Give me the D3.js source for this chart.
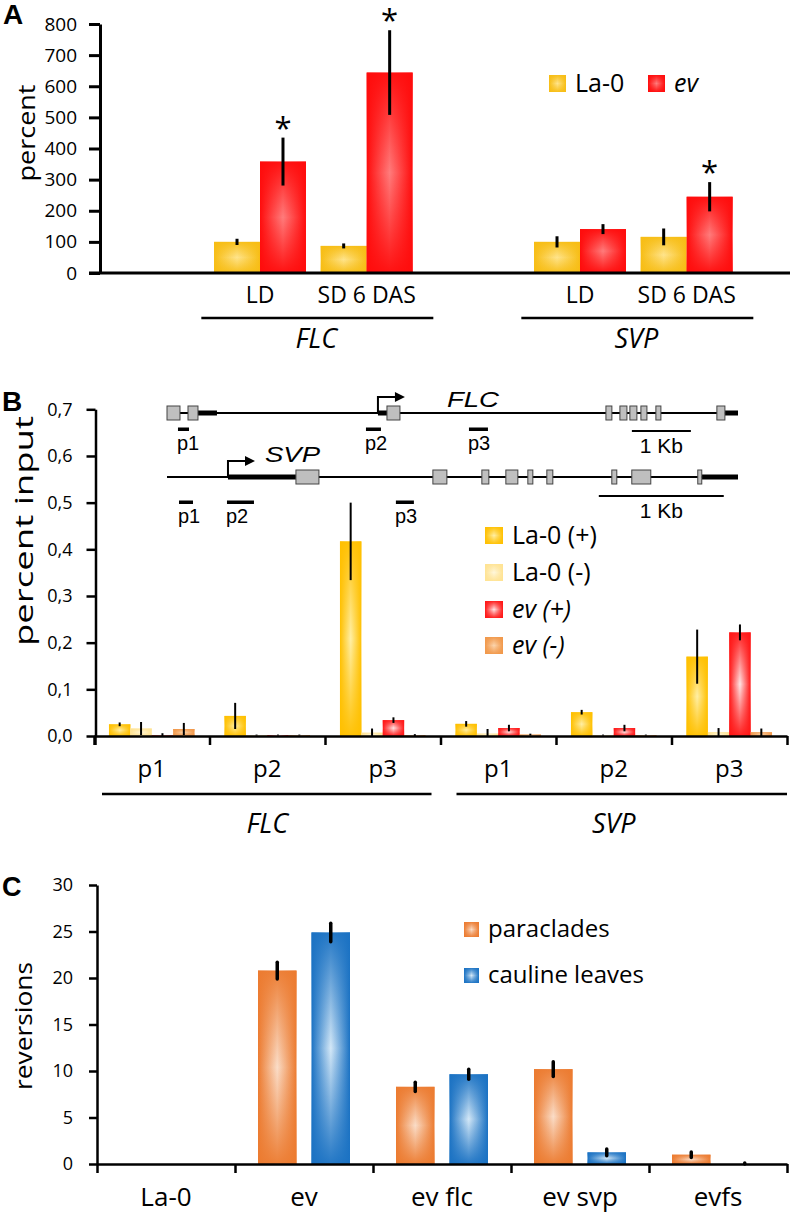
<!DOCTYPE html>
<html><head><meta charset="utf-8">
<script src="https://cdn.jsdelivr.net/npm/d3@7"></script>
<style>
body{margin:0;background:#fff}
svg{display:block}
text{font-family:'Open Sans',sans-serif;fill:#000}
.arial{font-family:'Liberation Sans',Arial,sans-serif}
</style>
</head><body>
<svg id="chart" width="793" height="1215"></svg>
<script>
// ---------------- DATA ----------------
// Panel A
const aConditions = ["LD", "SD 6 DAS", "LD", "SD 6 DAS"];
const aGenes = ["FLC", "FLC", "SVP", "SVP"];
const aSlots = ["_0", "FLC|LD", "FLC|SD 6 DAS", "_1", "SVP|LD", "SVP|SD 6 DAS"];
const aSeries = ["La-0", "ev"];
const aLa0 = [100, 87, 100, 116];
const aLa0Err = [10, 8, 18, 27];
const aEv = [358, 644, 141, 245];
const aEvErr = [77, 136, 16, 47];
const aSignificant = [true, true, false, true];
const aTicks = [0, 100, 200, 300, 400, 500, 600, 700, 800];

// Panel B
const bProbes = ["p1", "p2", "p3", "p1", "p2", "p3"];
const bGenes = ["FLC", "FLC", "FLC", "SVP", "SVP", "SVP"];
const bSeries = ["La-0 (+)", "La-0 (-)", "ev (+)", "ev (-)"];
const bLa0Plus = [0.025, 0.043, 0.417, 0.026, 0.051, 0.170];
const bLa0PlusErr = [0.004, 0.028, 0.083, 0.006, 0.005, 0.058];
const bLa0Minus = [0.016, 0.002, 0.007, 0.005, 0.002, 0.008];
const bLa0MinusErr = [0.014, 0.001, 0.009, 0.010, 0.001, 0.009];
const bEvPlus = [0.001, 0.002, 0.034, 0.017, 0.017, 0.222];
const bEvPlusErr = [0.005, 0.001, 0.006, 0.007, 0.007, 0.017];
const bEvMinus = [0.015, 0.002, 0.002, 0.003, 0.002, 0.008];
const bEvMinusErr = [0.013, 0.001, 0.002, 0.002, 0.001, 0.008];
const bTicks = [0, 0.1, 0.2, 0.3, 0.4, 0.5, 0.6, 0.7];
const bTickLabels = ["0,0", "0,1", "0,2", "0,3", "0,4", "0,5", "0,6", "0,7"];

// Panel B gene diagrams (bp)
const flcLength = 9680;
const flcExons = [[0, 220], [356, 525], [3729, 3949], [7441, 7542], [7678, 7797], [7847, 7966], [8034, 8136], [8288, 8373], [9322, 9458]];
const flcUtrs = [[525, 847], [3576, 3729], [9458, 9680]];
const flcTss = 3576;
const flcPrimers = [["p1", 186, 373], ["p2", 3373, 3627], ["p3", 5119, 5441]];
const flcScaleBar = [7881, 8881];
const svpLength = 4570;
const svpExons = [[1032, 1216], [2128, 2240], [2520, 2576], [2712, 2808], [2888, 2928], [3040, 3088], [3560, 3600], [3720, 3872], [4248, 4280]];
const svpUtrs = [[488, 1032], [4280, 4570]];
const svpTss = 488;
const svpPrimers = [["p1", 96, 208], ["p2", 480, 696], ["p3", 1832, 1976]];
const svpScaleBar = [3456, 4456];

// Panel C
const cGenotypes = ["La-0", "ev", "ev flc", "ev svp", "evfs"];
const cSeries = ["paraclades", "cauline leaves"];
const cParaclades = [0, 20.8, 8.3, 10.2, 1.0];
const cParacladesErr = [0, 0.9, 0.5, 0.8, 0.3];
const cCauline = [0, 24.9, 9.65, 1.25, 0];
const cCaulineErr = [0, 1.0, 0.55, 0.35, 0.1];
const cTicks = [0, 5, 10, 15, 20, 25, 30];

// ---------------- SETUP ----------------
const svg = d3.select("#chart");
const defs = svg.append("defs");
const palette = {
  aLa0: ["#F7BD14", "#FFE48C"],
  aEv: ["#FF0C0C", "#FF7C7C"],
  bLa0P: ["#FFC000", "#FFEFA6"],
  bLa0M: ["#FFE393", "#FFF7DC"],
  bEvP: ["#FF1616", "#FFE6E6"],
  bEvM: ["#F1984A", "#FBD5AE"],
  cPara: ["#EC7B30", "#FADDC8"],
  cCaul: ["#1B72C3", "#D4E8F7"]
};
Object.entries(palette).forEach(([k, [edge, center]]) => {
  const h = defs.append("linearGradient").attr("id", "h-" + k).attr("x1", 0).attr("x2", 1).attr("y1", 0).attr("y2", 0);
  h.append("stop").attr("offset", "0%").attr("stop-color", edge);
  h.append("stop").attr("offset", "50%").attr("stop-color", center);
  h.append("stop").attr("offset", "100%").attr("stop-color", edge);
  const v = defs.append("linearGradient").attr("id", "v-" + k).attr("x1", 0).attr("x2", 0).attr("y1", 0).attr("y2", 1);
  v.append("stop").attr("offset", "0%").attr("stop-color", edge).attr("stop-opacity", 0.95);
  v.append("stop").attr("offset", "50%").attr("stop-color", edge).attr("stop-opacity", 0);
  v.append("stop").attr("offset", "100%").attr("stop-color", edge).attr("stop-opacity", 0.95);
});
function gradRect(g, x, y, w, h, key) {
  if (h <= 0) return;
  g.append("rect").attr("x", x).attr("y", y).attr("width", w).attr("height", h).attr("fill", `url(#h-${key})`);
  g.append("rect").attr("x", x).attr("y", y).attr("width", w).attr("height", h).attr("fill", `url(#v-${key})`);
}
function errBar(g, x, yScale, v, e, sw, cap) {
  if (e <= 0) return;
  const lo = Math.max(0, v - e);
  g.append("line").attr("x1", x).attr("x2", x)
    .attr("y1", yScale(v + e)).attr("y2", yScale(lo))
    .attr("stroke", "#000").attr("stroke-width", sw).attr("stroke-linecap", cap || "butt");
}
function styleAxis(g, fs, sw) {
  g.attr("font-family", "'Open Sans',sans-serif").attr("font-size", fs);
  g.selectAll("path.domain").attr("stroke", "#000").attr("stroke-width", sw);
  g.selectAll(".tick line").attr("stroke", "#000").attr("stroke-width", sw);
  g.selectAll(".tick text").attr("fill", "#000");
}

// ---------------- PANEL A ----------------
(function () {
  const g = svg.append("g");
  const x = d3.scaleBand().domain(aSlots).range([100, 740]).padding(0);
  const xi = d3.scaleBand().domain(aSeries).range([0, x.bandwidth()]).paddingInner(0).paddingOuter(0.16);
  const y = d3.scaleLinear().domain([0, 800]).range([273, 24]);
  const keys = aConditions.map((c, i) => aGenes[i] + "|" + c);

  keys.forEach((k, i) => {
    const x0 = x(k);
    gradRect(g, x0 + xi("La-0"), y(aLa0[i]), xi.bandwidth(), y(0) - y(aLa0[i]), "aLa0");
    gradRect(g, x0 + xi("ev"), y(aEv[i]), xi.bandwidth(), y(0) - y(aEv[i]), "aEv");
    errBar(g, x0 + xi("La-0") + xi.bandwidth() / 2, y, aLa0[i], aLa0Err[i], 3);
    errBar(g, x0 + xi("ev") + xi.bandwidth() / 2, y, aEv[i], aEvErr[i], 3);
    if (aSignificant[i]) {
      g.append("text").attr("x", x0 + xi("ev") + xi.bandwidth() / 2).attr("y", y(aEv[i] + aEvErr[i]) + 1)
        .attr("text-anchor", "middle").attr("font-size", 31).text("*");
    }
    g.append("text").attr("x", x0 + x.bandwidth() / 2).attr("y", 303).attr("text-anchor", "middle")
      .attr("font-size", 23).text(aConditions[i]);
  });

  const ax = g.append("g").attr("transform", "translate(100,0)")
    .call(d3.axisLeft(y).tickValues(aTicks).tickSize(11).tickPadding(12).tickSizeOuter(0));
  styleAxis(ax, 19, 3);
  g.append("line").attr("x1", 89).attr("x2", 790).attr("y1", y(0)).attr("y2", y(0)).attr("stroke", "#000").attr("stroke-width", 3);

  // gene brackets
  ["FLC", "SVP"].forEach(gene => {
    const ks = keys.filter((k, i) => aGenes[i] === gene);
    const c = (x(ks[0]) + x(ks[ks.length - 1]) + x.bandwidth()) / 2;
    g.append("line").attr("x1", c - 112).attr("x2", c + 120).attr("y1", 318).attr("y2", 318).attr("stroke", "#000").attr("stroke-width", 2.5);
    g.append("text").attr("x", c + 3).attr("y", 348).attr("text-anchor", "middle").attr("font-size", 27)
      .attr("font-style", "italic").text(gene);
  });

  g.append("text").attr("transform", "translate(35,133) rotate(-90)").attr("text-anchor", "middle")
    .attr("font-size", 24).attr("textLength", 97).attr("lengthAdjust", "spacingAndGlyphs").text("percent");
  g.append("text").attr("class", "arial").attr("x", 3).attr("y", 24).attr("font-size", 28).attr("font-weight", "bold").text("A");

  // legend
  const leg = [[aSeries[0], "aLa0", 549, false], [aSeries[1], "aEv", 648, true]];
  leg.forEach(([name, key, lx, ital]) => {
    gradRect(g, lx, 75, 17, 17, key);
    g.append("text").attr("x", lx + 26).attr("y", 92).attr("font-size", 25)
      .attr("font-style", ital ? "italic" : "normal").text(name);
  });
})();

// ---------------- PANEL B ----------------
(function () {
  const g = svg.append("g");
  const x = d3.scaleBand().domain(d3.range(bProbes.length)).range([94, 787]).padding(0);
  const xi = d3.scaleBand().domain(bSeries).range([0, x.bandwidth()]).paddingInner(0).paddingOuter(0.7);
  const y = d3.scaleLinear().domain([0, 0.7]).range([736, 409.3]);
  const series = [
    [bSeries[0], bLa0Plus, bLa0PlusErr, "bLa0P"],
    [bSeries[1], bLa0Minus, bLa0MinusErr, "bLa0M"],
    [bSeries[2], bEvPlus, bEvPlusErr, "bEvP"],
    [bSeries[3], bEvMinus, bEvMinusErr, "bEvM"]
  ];
  bProbes.forEach((p, i) => {
    series.forEach(([name, vals, errs, key]) => {
      gradRect(g, x(i) + xi(name), y(vals[i]), xi.bandwidth(), y(0) - y(vals[i]), key);
    });
  });
  bProbes.forEach((p, i) => {
    series.forEach(([name, vals, errs]) => {
      errBar(g, x(i) + xi(name) + xi.bandwidth() / 2, y, vals[i], errs[i], 2);
    });
  });

  const ay = g.append("g").attr("transform", "translate(95.5,0)")
    .call(d3.axisLeft(y).tickValues(bTicks).tickFormat((d, i) => bTickLabels[i]).tickSize(9).tickPadding(14).tickSizeOuter(0));
  styleAxis(ay, 18, 2.5);
  const xb = d3.scaleLinear().domain([0, bProbes.length]).range([94, 787]);
  const axb = g.append("g").attr("transform", "translate(0,736)")
    .call(d3.axisBottom(xb).ticks(bProbes.length).tickFormat("").tickSize(9).tickSizeOuter(0));
  styleAxis(axb, 18, 2.5);
  g.append("line").attr("x1", 95.5).attr("x2", 95.5).attr("y1", 736).attr("y2", 745).attr("stroke", "#000").attr("stroke-width", 2.5);

  bProbes.forEach((p, i) => {
    g.append("text").attr("x", x(i) + x.bandwidth() / 2).attr("y", 777).attr("text-anchor", "middle")
      .attr("font-size", 24).text(p);
  });
  const insets = { FLC: [8, -9], SVP: [16, 0] };
  ["FLC", "SVP"].forEach(gene => {
    const idx = bProbes.map((p, i) => i).filter(i => bGenes[i] === gene);
    const x0 = x(idx[0]), x1 = x(idx[idx.length - 1]) + x.bandwidth();
    g.append("line").attr("x1", x0 + insets[gene][0]).attr("x2", x1 + insets[gene][1]).attr("y1", 794).attr("y2", 794)
      .attr("stroke", "#000").attr("stroke-width", 2.5);
    g.append("text").attr("x", (x0 + x1) / 2).attr("y", 833).attr("text-anchor", "middle").attr("font-size", 27)
      .attr("font-style", "italic").text(gene);
  });

  g.append("text").attr("transform", "translate(33,531) rotate(-90)").attr("text-anchor", "middle")
    .attr("font-size", 25).attr("textLength", 230).attr("lengthAdjust", "spacingAndGlyphs").text("percent input");
  g.append("text").attr("class", "arial").attr("x", 2).attr("y", 411).attr("font-size", 28).attr("font-weight", "bold").text("B");

  // legend
  const legY = [527, 564, 601, 637];
  series.forEach(([name, , , key], i) => {
    gradRect(g, 485, legY[i], 18, 17, key);
    const t = g.append("text").attr("x", 512).attr("y", legY[i] + 17).attr("font-size", 25);
    if (name.startsWith("ev")) t.attr("font-style", "italic");
    t.text(name);
  });

  // gene diagrams
  function diagram(len, exons, utrs, tss, primers, bar, yLine, label, labelX, labelY, labelLen, primerY, barY) {
    const gx = d3.scaleLinear().domain([0, len]).range([167, 738]);
    const d = g.append("g");
    d.append("line").attr("x1", gx(0)).attr("x2", gx(len)).attr("y1", yLine).attr("y2", yLine).attr("stroke", "#000").attr("stroke-width", 2);
    utrs.forEach(([s, e]) => d.append("rect").attr("x", gx(s)).attr("y", yLine - 2.5).attr("width", gx(e) - gx(s)).attr("height", 5).attr("fill", "#000"));
    exons.forEach(([s, e]) => d.append("rect").attr("x", gx(s)).attr("y", yLine - 7).attr("width", gx(e) - gx(s)).attr("height", 14)
      .attr("fill", "#bfbfbf").attr("stroke", "#444").attr("stroke-width", 1));
    const tx = gx(tss);
    d.append("path").attr("d", `M${tx},${yLine} V${yLine - 16} H${tx + 18}`).attr("fill", "none").attr("stroke", "#000").attr("stroke-width", 2);
    d.append("path").attr("d", `M${tx + 17},${yLine - 21} L${tx + 27},${yLine - 16} L${tx + 17},${yLine - 11} Z`).attr("fill", "#000");
    d.append("text").attr("class", "arial").attr("x", labelX).attr("y", labelY).attr("font-size", 22).attr("font-style", "italic")
      .attr("textLength", labelLen).attr("lengthAdjust", "spacingAndGlyphs").text(label);
    primers.forEach(([n, s, e]) => {
      d.append("rect").attr("x", gx(s)).attr("y", primerY - 1.5).attr("width", gx(e) - gx(s)).attr("height", 3.5).attr("fill", "#000");
      d.append("text").attr("class", "arial").attr("x", gx(s) - 1).attr("y", primerY + 21).attr("font-size", 20).text(n);
    });
    d.append("line").attr("x1", gx(bar[0])).attr("x2", gx(bar[1])).attr("y1", barY).attr("y2", barY).attr("stroke", "#000").attr("stroke-width", 2);
    d.append("text").attr("class", "arial").attr("x", (gx(bar[0]) + gx(bar[1])) / 2).attr("y", barY + 22).attr("text-anchor", "middle")
      .attr("font-size", 21).text("1 Kb");
  }
  diagram(flcLength, flcExons, flcUtrs, flcTss, flcPrimers, flcScaleBar, 413, "FLC", 447, 407, 52, 429, 431);
  diagram(svpLength, svpExons, svpUtrs, svpTss, svpPrimers, svpScaleBar, 477, "SVP", 265, 462, 55, 502, 496);
})();

// ---------------- PANEL C ----------------
(function () {
  const g = svg.append("g");
  const x = d3.scaleBand().domain(cGenotypes).range([97, 787]).padding(0);
  const xi = d3.scaleBand().domain(cSeries).range([0, x.bandwidth()]).paddingInner(0.28).paddingOuter(0.43);
  const y = d3.scaleLinear().domain([0, 30]).range([1164, 885]);
  const series = [[cSeries[0], cParaclades, cParacladesErr, "cPara"], [cSeries[1], cCauline, cCaulineErr, "cCaul"]];
  cGenotypes.forEach((gt, i) => {
    series.forEach(([name, vals, errs, key]) => {
      gradRect(g, x(gt) + xi(name), y(vals[i]), xi.bandwidth(), y(0) - y(vals[i]), key);
    });
  });
  cGenotypes.forEach((gt, i) => {
    series.forEach(([name, vals, errs]) => {
      errBar(g, x(gt) + xi(name) + xi.bandwidth() / 2, y, vals[i], errs[i], 3.5, "round");
    });
  });
  const ay = g.append("g").attr("transform", "translate(97,0)")
    .call(d3.axisLeft(y).tickValues(cTicks).tickSize(8).tickPadding(16).tickSizeOuter(0));
  styleAxis(ay, 18, 2.5);
  const xb = d3.scaleLinear().domain([0, cGenotypes.length]).range([97, 787]);
  const axb = g.append("g").attr("transform", "translate(0,1164)")
    .call(d3.axisBottom(xb).ticks(cGenotypes.length).tickFormat("").tickSize(9).tickSizeOuter(0));
  styleAxis(axb, 18, 2.5);
  cGenotypes.forEach(gt => {
    g.append("text").attr("x", x(gt) + x.bandwidth() / 2).attr("y", 1206).attr("text-anchor", "middle")
      .attr("font-size", 26).text(gt);
  });
  g.append("text").attr("transform", "translate(32,1026) rotate(-90)").attr("text-anchor", "middle")
    .attr("font-size", 24).attr("textLength", 128).attr("lengthAdjust", "spacingAndGlyphs").text("reversions");
  g.append("text").attr("class", "arial").attr("x", 2).attr("y", 896).attr("font-size", 27).attr("font-weight", "bold").text("C");
  // legend
  [[cSeries[0], "cPara", 922, 937], [cSeries[1], "cCaul", 968, 983]].forEach(([name, key, sy, ty]) => {
    gradRect(g, 464, sy, 15, 15, key);
    g.append("text").attr("x", 488).attr("y", ty).attr("font-size", 24).text(name);
  });
})();
</script>
</body></html>
